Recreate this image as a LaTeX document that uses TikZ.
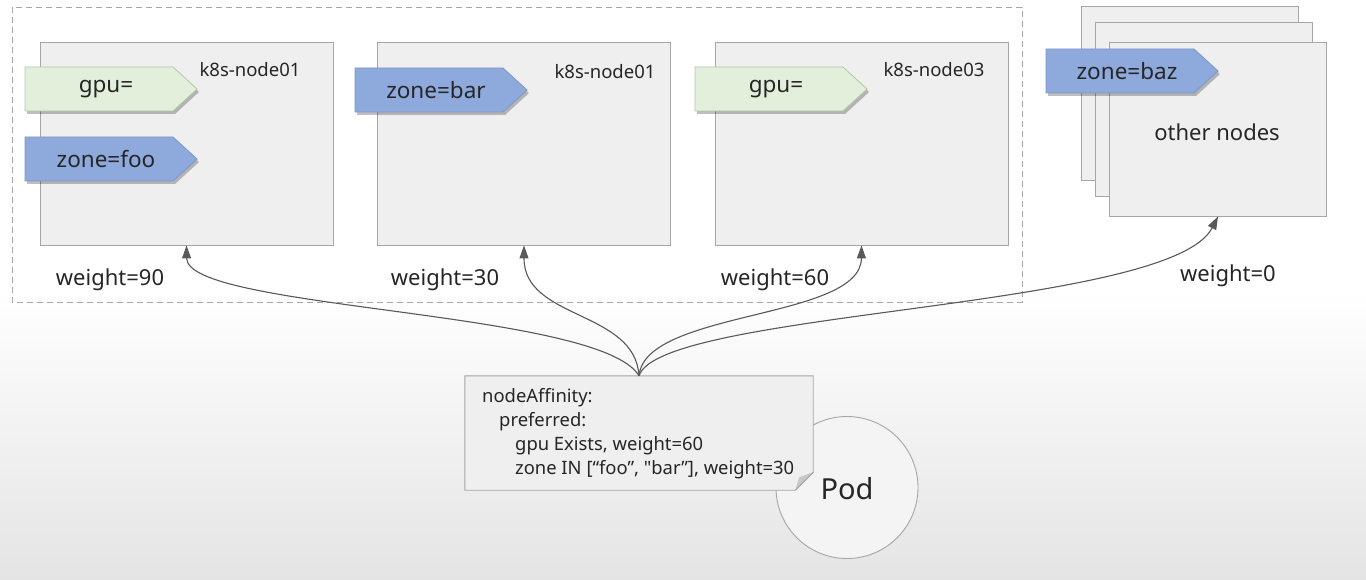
\documentclass[tikz,border=0pt]{standalone}
\usepackage{fontspec}
\setmainfont{Noto Sans}
\newfontfamily\plainqfont{Noto Sans}
\usetikzlibrary{arrows.meta,shadows,calc}
\definecolor{boxfill}{HTML}{EFEFEF}
\definecolor{boxline}{HTML}{A6A6A6}
\definecolor{greentag}{HTML}{E2EFDA}
\definecolor{greenline}{HTML}{B4C7A6}
\definecolor{bluetag}{HTML}{8EA9DB}
\definecolor{blueline}{HTML}{7F97C7}
\definecolor{arrowc}{HTML}{595959}
\definecolor{txt}{HTML}{262626}
\definecolor{bgbottom}{HTML}{E4E4E4}
\definecolor{foldc}{HTML}{C8C8C8}
\newcommand\mktag[5]{%
  \draw[#3, drop shadow={shadow xshift=2pt, shadow yshift=-3pt, opacity=0.25, fill=black}]
    (#1,#2) -- ++(148,0) -- ++(24,22) -- ++(-24,22) -- ++(-148,0) -- cycle;
  \node[tagtext] (#4) at ($(#1,#2)+(81,22)$) {#5};}
\begin{document}
\begin{tikzpicture}[x=1pt,y=-1pt,
  hostbox/.style={draw=boxline, fill=boxfill, line width=0.9pt, inner sep=0pt, minimum width=293pt, minimum height=203pt},
  otherbox/.style={draw=boxline, fill=boxfill, line width=0.9pt, inner sep=0pt, minimum width=217pt, minimum height=174pt},
  greenstyle/.style={fill=greentag, draw=greenline, line width=0.8pt},
  bluestyle/.style={fill=bluetag, draw=blueline, line width=0.8pt},
  tagtext/.style={text=txt, font=\fontsize{22.5}{27}\selectfont, inner sep=0pt},
  hostlabel/.style={text=txt, font=\fontsize{18.5}{22}\selectfont, inner sep=0pt},
  weightlabel/.style={text=txt, font=\fontsize{22}{26}\selectfont, inner sep=0pt},
  link/.style={draw=arrowc, line width=1.1pt, -{Triangle[length=13pt,width=9pt]}},
]
\useasboundingbox (0,0) rectangle (1366,580);
\fill[white] (0,0) rectangle (1366,290);
\shade[top color=white, bottom color=bgbottom] (0,290) rectangle (1366,580);

% dashed group
\draw[boxline, line width=0.9pt, dash pattern=on 6pt off 4pt] (12,7) rectangle (1022,302);

% host boxes
\node[hostbox] (n1) at (186.5,143.5) {};
\node[hostbox] (n2) at (524,143.5) {};
\node[hostbox] (n3) at (861.5,143.5) {};

% other nodes stack
\node[otherbox] (o1) at (1190,93) {};
\node[otherbox] (o2) at (1204,109) {};
\node[otherbox] (other) at (1218,129) {};

% labels
\node[hostlabel] (l1) at (250,70) {k8s-node01};
\node[hostlabel] (l2) at (605,72) {k8s-node01};
\node[hostlabel] (l3) at (934,70) {k8s-node03};
\node[weightlabel] (ol) at (1217,132) {other nodes};

% tags
\mktag{25}{67}{greenstyle}{t1}{gpu=}
\mktag{25}{137}{bluestyle}{t2}{zone=foo}
\mktag{355}{68}{bluestyle}{t3}{zone=bar}
\mktag{695}{67}{greenstyle}{t4}{gpu=}
\mktag{1046}{49}{bluestyle}{t5}{zone=baz}

% weights
\node[weightlabel] (w1) at (110,280) {weight=90};
\node[weightlabel] (w2) at (445,280) {weight=30};
\node[weightlabel] (w3) at (775,280) {weight=60};
\node[weightlabel] (w4) at (1228,276) {weight=0};

% pod
\node[circle, draw=boxline, fill=boxfill!70!white, line width=0.9pt, minimum size=142pt, inner sep=0pt] (pod) at (847,487.5) {};
\node[text=txt, font=\fontsize{29}{34}\selectfont, inner sep=0pt] (podl) at (847,489) {Pod};

% note
\node[minimum width=348pt, minimum height=114pt, inner sep=0pt] (note) at (639,433) {};
\draw[boxline, fill=boxfill, line width=0.9pt]
  (note.north west) -- (note.north east) -- ($(note.south east)+(0,-18)$)
  -- ($(note.south east)+(-18,0)$) -- (note.south west) -- cycle;
\fill[foldc] ($(note.south east)+(0,-18)$) -- ($(note.south east)+(-18,0)$) -- ($(note.south east)+(-14,-13)$) -- cycle;
\draw[boxline, line width=0.9pt] ($(note.south east)+(0,-18)$) -- ($(note.south east)+(-18,0)$);
\node[anchor=west, align=left, text=txt, font=\fontsize{18.4}{24}\selectfont, inner sep=0pt] (notetext) at (482,434)
  {nodeAffinity:\\\hspace*{17pt}preferred:\\\hspace*{33pt}gpu Exists, weight=60\\\hspace*{33pt}zone IN [“foo”, {\plainqfont"}bar”], weight=30};

% links
\draw[link] (note.north) .. controls (600,310) and (187,310) .. (n1.south);
\draw[link] (note.north) .. controls (635,310) and (524,320) .. (n2.south);
\draw[link] (note.north) .. controls (645,310) and (861,320) .. (n3.south);
\draw[link] (note.north) .. controls (660,310) and (1170,310) .. (other.south);
\end{tikzpicture}
\end{document}
